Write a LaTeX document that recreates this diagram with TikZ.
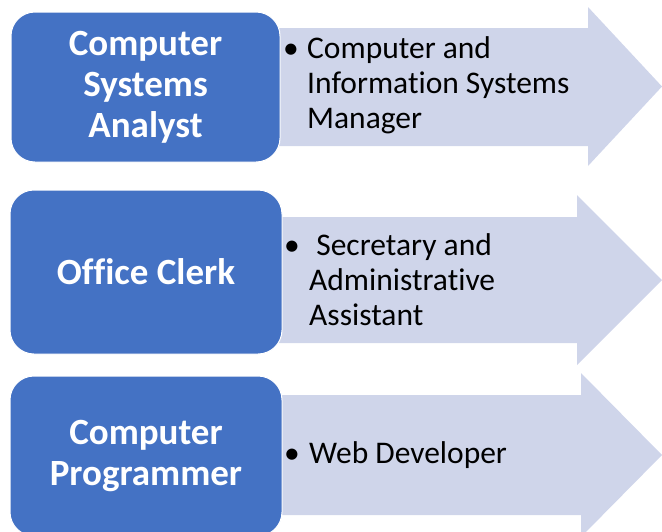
\documentclass[tikz,border=0pt]{standalone}
\usepackage{fontspec}
\setmainfont{Carlito}[Ligatures=NoCommon]
\usepackage{xcolor}
\usetikzlibrary{positioning}
\definecolor{RoleBlue}{RGB}{68,114,196}
\definecolor{PathLilac}{RGB}{207,213,234}

\tikzset{
    role/.style={fill=RoleBlue, draw=white, line width=1pt, rounded corners=24pt,
        text=white, align=center, inner sep=0pt,
        font=\fontsize{37pt}{41pt}\selectfont\bfseries},
    careerarrow/.style={fill=PathLilac},
    job/.style={align=left, anchor=base west, inner sep=0pt,
        font=\fontsize{31.5pt}{35pt}\selectfont},
    bul/.style={anchor=base, inner sep=0pt,
        font=\fontsize{31.5pt}{35pt}\selectfont}
}

\begin{document}
\begin{tikzpicture}[x=1pt,y=-1pt]
    \useasboundingbox (0,0) rectangle (662,531);
    \clip (0,0) rectangle (662,531);
    % arrows behind the boxes
    \fill[careerarrow] (270,28) -- (588,28) -- (588,7) -- (662,86.5)
        -- (588,166) -- (588,146) -- (270,146) -- cycle;
    \fill[careerarrow] (270,217) -- (577,217) -- (577,195) -- (662,280)
        -- (577,365) -- (577,343) -- (270,343) -- cycle;
    \fill[careerarrow] (270,395) -- (581,395) -- (581,373) -- (662,455)
        -- (581,537) -- (581,515) -- (270,515) -- cycle;

    % roles
    \node[role, minimum width=269pt, minimum height=150pt] (analyst) at (145.5,87)
        {Computer\\Systems\\Analyst};
    \node[role, minimum width=272pt, minimum height=164pt] (clerk) at (146,272)
        {Office Clerk};
    \node[role, minimum width=272pt, minimum height=160pt] (programmer) at (146,456)
        {Computer\\Programmer};

    % next jobs (base is the last line)
    \node[bul] (b1) at (291,58) {\textbullet};
    \node[job] (manager) at (307,128) {Computer and\\Information Systems\\Manager};
    \node[bul] (b2) at (292,255) {\textbullet};
    \node[job] (secretary) at (309,325) {\ Secretary and\\Administrative\\Assistant};
    \node[bul] (b3) at (292,463) {\textbullet};
    \node[job] (webdev) at (309,463) {Web Developer};
\end{tikzpicture}
\end{document}
